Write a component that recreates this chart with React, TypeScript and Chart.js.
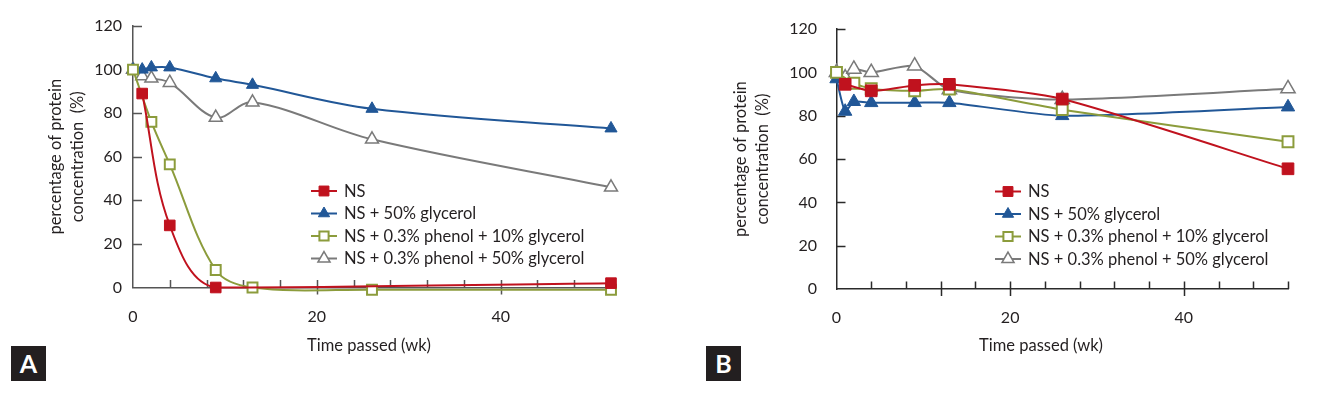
import React, { useEffect, useRef } from 'react';
import { Chart, registerables } from 'chart.js';
import { drawPoint } from 'chart.js/helpers';

Chart.register(...registerables);

const FONT = 'Lato, "Open Sans", "DejaVu Sans", sans-serif';
const TEXT = '#231F20';

// ---------- data ----------
const weeks = [0, 1, 2, 4, 9, 13, 26, 52];

// Panel A
const aNS = [null, 89, null, 28.5, 0, null, null, 2];
const aGly50 = [100, 100, 101, 101, 96, 93, 82, 73];
const aPhenol10 = [100, null, 76, 56.5, 8, 0, -1, -1];
const aPhenol50 = [100, 97, 96, 94, 78, 85, 68, 46];

// Panel B
const bNS = [null, 94.5, null, 91.5, 94, 94.5, 87.7, 55.5];
const bGly50 = [97, 82, 86.5, 86, 86, 86, 80, 84];
const bPhenol10 = [100, null, 95, 92.5, 91.5, 92.3, 82.8, 68];
const bPhenol50 = [100, 97.5, 101.5, 100, 103, 92, 87.5, 92.5];

const seriesNames = [
  'NS',
  'NS + 50% glycerol',
  'NS + 0.3% phenol + 10% glycerol',
  'NS + 0.3% phenol + 50% glycerol',
];
const yTickValues = [0, 20, 40, 60, 80, 100, 120];
const xLabelValues = [0, 20, 40];
const xTitle = 'Time passed (wk)';
const yTitle = ['percentage of protein', 'concentration  (%)'];

// ---------- styles ----------
const seriesStyle = [
  { color: '#C0121E', fill: '#C0121E', pointStyle: 'rect', radius: 7.5, bw: 1, lr: 7 },
  { color: '#215797', fill: '#215797', pointStyle: 'triangle', radius: 7, bw: 1, lr: 6.5 },
  { color: '#8C9C3C', fill: '#FFFFFF', pointStyle: 'rect', radius: 7, bw: 2, lr: 6.5 },
  { color: '#7A7A7A', fill: '#FFFFFF', pointStyle: 'triangle', radius: 7.5, bw: 1.5, lr: 7 },
];
const drawOrder = [0, 2, 1, 3];

type Panel = {
  left: number; width: number; areaLeft: number; areaRight: number; areaTop: number; areaBottom: number;
  yLabelPad: number; yTitleOffset: number; xTitleX: number; xTitleY: number; legendX: number; legendY: number;
  majors: number[]; axisColor: string; tension: number; series: (number | null)[][]; letter: string; sizeScale: number;
};

const panels: Panel[] = [
  {
    left: 0, width: 668, areaLeft: 133, areaRight: 611, areaTop: 26, areaBottom: 287.5,
    yLabelPad: 11, yTitleOffset: 56, xTitleX: 369, xTitleY: 346, legendX: 311, legendY: 191,
    majors: [20, 40], axisColor: '#555555', tension: 0.35,
    series: [aNS, aGly50, aPhenol10, aPhenol50], letter: 'A', sizeScale: 1,
  },
  {
    left: 668, width: 667, areaLeft: 836.5, areaRight: 1288, areaTop: 26, areaBottom: 289,
    yLabelPad: 19.5, yTitleOffset: 73, xTitleX: 1041, xTitleY: 346, legendX: 995, legendY: 191.5,
    majors: [12, 20, 40], axisColor: '#2a2a2a', tension: 0.22,
    series: [bNS, bGly50, bPhenol10, bPhenol50], letter: 'B', sizeScale: 1.1,
  },
];

function makePlugin(p: Panel) {
  return {
    id: 'custom' + p.letter,
    beforeDatasetsDraw(chart: any) {
      const ctx = chart.ctx;
      const xs = chart.scales.x;
      const ys = chart.scales.y;
      const area = chart.chartArea;
      ctx.save();
      ctx.strokeStyle = p.axisColor;
      ctx.lineWidth = 1.5;
      ctx.beginPath();
      for (const v of yTickValues) {
        if (v === 0) continue;
        const y = Math.round(ys.getPixelForValue(v)) + 0.5;
        ctx.moveTo(area.left, y);
        ctx.lineTo(area.left + 9, y);
      }
      for (let w = 4; w <= 52; w += 4) {
        const x = Math.round(xs.getPixelForValue(w)) + 0.5;
        const major = p.majors.includes(w);
        ctx.moveTo(x, area.bottom - 7.5);
        ctx.lineTo(x, area.bottom + (major ? 7 : 0));
      }
      ctx.stroke();
      ctx.restore();
    },
    afterDraw(chart: any) {
      const ctx = chart.ctx;
      ctx.save();
      // x title
      ctx.fillStyle = TEXT;
      ctx.font = `16.5px ${FONT}`;
      ctx.textAlign = 'center';
      ctx.textBaseline = 'middle';
      ctx.fillText(xTitle, p.xTitleX - p.left, p.xTitleY);
      // legend
      const lx = p.legendX - p.left;
      seriesNames.forEach((name, i) => {
        const st = seriesStyle[i];
        const y = p.legendY + i * 22.5;
        ctx.strokeStyle = st.color;
        ctx.lineWidth = 2;
        ctx.beginPath();
        ctx.moveTo(lx, y);
        ctx.lineTo(lx + 26, y);
        ctx.stroke();
        ctx.fillStyle = st.fill;
        ctx.lineWidth = st.bw;
        drawPoint(ctx, { pointStyle: st.pointStyle, rotation: 0, radius: st.lr, borderWidth: st.bw } as any, lx + 13, y);
        ctx.fillStyle = TEXT;
        ctx.font = `16.5px ${FONT}`;
        ctx.textAlign = 'left';
        ctx.textBaseline = 'middle';
        ctx.fillText(name, lx + 33, y + 0.5);
      });
      ctx.restore();
    },
  };
}

function PanelChart({ p }: { p: Panel }) {
  const ref = useRef<HTMLCanvasElement | null>(null);
  useEffect(() => {
    if (!ref.current) return;
    const datasets = seriesNames.map((name, i) => {
      const st = seriesStyle[i];
      const pts = weeks
        .map((w, k) => ({ x: w, y: p.series[i][k] }))
        .filter((d) => d.y !== null);
      return {
        label: name,
        data: pts,
        borderColor: st.color,
        backgroundColor: st.fill,
        pointBackgroundColor: st.fill,
        pointBorderColor: st.color,
        pointBorderWidth: st.bw,
        pointStyle: st.pointStyle,
        pointRadius: st.radius * p.sizeScale,
        borderWidth: 2,
        tension: p.tension,
        order: drawOrder[i],
        fill: false,
        clip: false,
      };
    });
    const chart = new Chart(ref.current, {
      type: 'line',
      data: { datasets } as any,
      options: {
        responsive: false,
        animation: false,
        devicePixelRatio: 1,
        layout: {
          padding: { left: 0, top: p.areaTop, right: p.width - (p.areaRight - p.left), bottom: 0 },
        },
        plugins: { legend: { display: false }, tooltip: { enabled: false } },
        scales: {
          x: {
            type: 'linear',
            min: 0,
            max: 52,
            grid: { display: false, drawTicks: false },
            border: { display: true, color: p.axisColor, width: 1.5 },
            ticks: {
              stepSize: 20,
              includeBounds: false,
              autoSkip: false,
              maxRotation: 0,
              padding: 19.5,
              color: TEXT,
              font: { family: FONT, size: 16 },
              callback: (v: any) => (xLabelValues.includes(Number(v)) ? String(v) : ''),
            },
            afterFit: (s: any) => { s.height = 399 - p.areaBottom; },
          },
          y: {
            type: 'linear',
            min: 0,
            max: 120,
            grid: { display: false, drawTicks: false },
            border: { display: true, color: p.axisColor, width: 1.5 },
            ticks: {
              stepSize: 20,
              padding: p.yLabelPad,
              color: TEXT,
              font: { family: FONT, size: 16 },
            },
            title: {
              display: true,
              text: yTitle,
              color: TEXT,
              font: { family: FONT, size: 16.5, lineHeight: 1.33 },
              padding: { top: p.yTitleOffset - 11, bottom: 0 },
            },
            afterFit: (s: any) => { s.width = p.areaLeft - p.left; },
          },
        },
      } as any,
      plugins: [makePlugin(p)],
    });
    return () => chart.destroy();
  }, [p]);
  return (
    <canvas
      ref={ref}
      width={p.width}
      height={399}
      style={{ position: 'absolute', left: p.left, top: 0, width: p.width, height: 399 }}
    />
  );
}

export default function App() {
  return (
    <div style={{ position: 'absolute', left: 0, top: 0, width: 1335, height: 399, background: '#fff', overflow: 'hidden' }}>
      {panels.map((p) => (
        <PanelChart key={p.letter} p={p} />
      ))}
      {panels.map((p, i) => (
        <div
          key={'lbl' + p.letter}
          style={{
            position: 'absolute',
            left: i === 0 ? 11 : 706,
            top: 346,
            width: 35,
            height: 35,
            background: '#231F20',
            color: '#fff',
            fontFamily: FONT,
            fontWeight: 700,
            fontSize: 25,
            lineHeight: '35px',
            textAlign: 'center',
          }}
        >
          {p.letter}
        </div>
      ))}
    </div>
  );
}
